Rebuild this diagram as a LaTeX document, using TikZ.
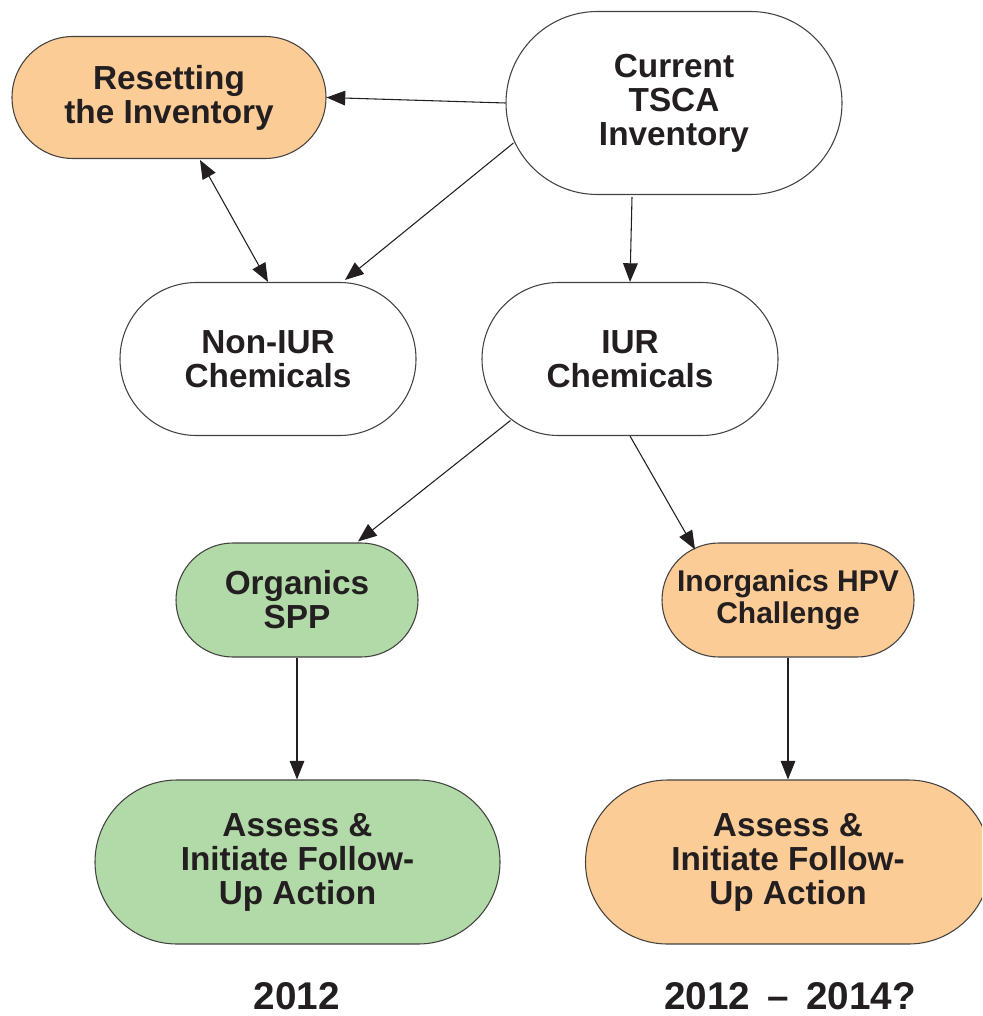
\documentclass[tikz,border=0pt]{standalone}
\usepackage{fontspec}
\setmainfont{Liberation Sans}
\usetikzlibrary{arrows.meta}
\definecolor{orangefill}{RGB}{252,204,150}
\definecolor{greenfill}{RGB}{178,218,168}
\definecolor{ink}{RGB}{35,31,32}
\begin{document}
\begin{tikzpicture}[x=0.75pt,y=-0.75pt,
  box/.style={draw=ink!85, line width=0.8pt, text=ink, align=center, inner sep=0pt,
    font=\bfseries\fontsize{25}{25.5}\selectfont},
  arr/.style={draw=ink, line width=0.8pt, -{Triangle[length=14pt,width=11pt]}},
  dblarr/.style={draw=ink, line width=0.8pt, {Triangle[length=14pt,width=11pt]}-{Triangle[length=14pt,width=11pt]}},
  yearlbl/.style={text=ink, inner sep=0pt, font=\bfseries\fontsize{29}{30}\selectfont}]
\useasboundingbox (0,0) rectangle (982,1016);
\clip (0,0) rectangle (982,1016);
\node[box, fill=orangefill, minimum width=235.5pt, minimum height=91.5pt, rounded corners=45.7pt] (reset) at (169,97.5) {Resetting\\the Inventory};
\node[box, fill=white, minimum width=252pt, minimum height=137.25pt, rounded corners=68.6pt] (cur) at (674,103) {Current\\TSCA\\Inventory};
\node[box, fill=white, minimum width=222pt, minimum height=114.75pt, rounded corners=57.3pt] (nonIUR) at (268,359) {Non-IUR\\Chemicals};
\node[box, fill=white, minimum width=222pt, minimum height=114.75pt, rounded corners=57.3pt] (iur) at (630,359) {IUR\\Chemicals};
\node[box, fill=greenfill, minimum width=181.5pt, minimum height=85.5pt, rounded corners=42.7pt] (org) at (297,600) {Organics\\SPP};
\node[box, fill=orangefill, minimum width=189pt, minimum height=85.5pt, rounded corners=42.7pt, font=\bfseries\fontsize{22.5}{24}\selectfont] (inorg) at (788,600) {Inorganics HPV\\Challenge};
\node[box, fill=greenfill, minimum width=303.75pt, minimum height=123pt, rounded corners=61.5pt] (assessL) at (297.5,862) {Assess \&\\Initiate Follow-\\Up Action};
\node[box, fill=orangefill, minimum width=303.75pt, minimum height=123pt, rounded corners=61.5pt] (assessR) at (788,862) {Assess \&\\Initiate Follow-\\Up Action};
\node[yearlbl] (y1) at (297,996) {2012};
\node[yearlbl] (y2) at (790,996) {2012 \,–\, 2014?};
\draw[arr] (cur.west) -- (reset.east);
\draw[arr] ([shift={(8,40)}]cur.west) -- ([shift={(77,-2)}]nonIUR.north);
\draw[arr] ([shift={(-42,2)}]cur.south) -- (iur.north);
\draw[dblarr] ([shift={(31,1)}]reset.south) -- (nonIUR.north);
\draw[arr] ([shift={(29,61.5)}]iur.west) -- ([shift={(61,-1)}]org.north);
\draw[arr] (iur.south) -- ([shift={(-93,7)}]inorg.north);
\draw[arr] (org.south) -- (org.south |- assessL.north);
\draw[arr] (inorg.south) -- (assessR.north);
\end{tikzpicture}
\end{document}
